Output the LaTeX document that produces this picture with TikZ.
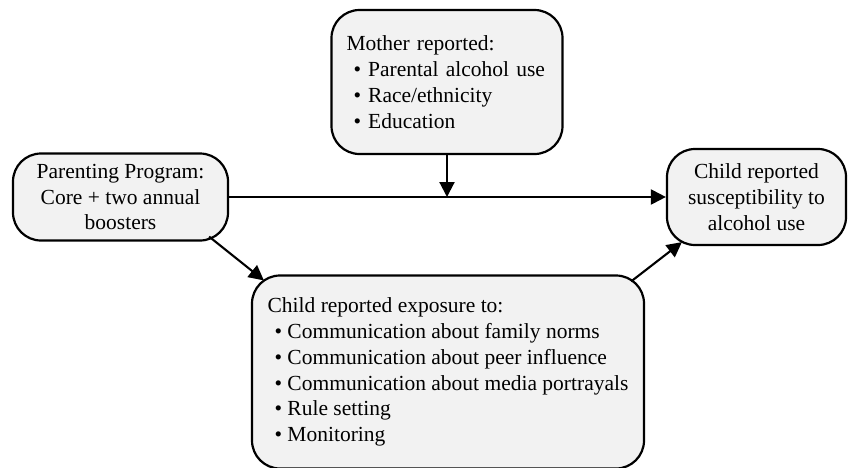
\documentclass[tikz,border=0pt]{standalone}
\usepackage{fontspec}
\setmainfont{Liberation Serif}
\usetikzlibrary{arrows.meta}
\usetikzlibrary{positioning}
\definecolor{boxgray}{gray}{0.95}

\begin{document}
\begin{tikzpicture}[x=1pt,y=-1pt,
    box/.style={draw, line width=2.2pt, fill=boxgray, rounded corners=28pt, inner sep=0pt,
        font=\fontsize{21.5}{25.8}\selectfont},
    link/.style={line width=2.1pt, -{Triangle[length=15pt,width=15pt]}}]
        \useasboundingbox (0,0) rectangle (848,467);
        \node[box, minimum width=215pt, minimum height=87pt, align=center] (prog) at (120.5,197)
            {Parenting Program:\\Core + two annual\\boosters};
        \node[box, minimum width=231pt, minimum height=144pt, text width=201pt, align=left] (mother) at (447,82)
            {Mother reported:\\
             \hspace*{7pt}\textbullet\ Parental alcohol use\\
             \hspace*{7pt}\textbullet\ Race/ethnicity\\
             \hspace*{7pt}\textbullet\ Education};
        \node[box, minimum width=179pt, minimum height=96pt, align=center] (outcome) at (756.5,197)
            {Child reported\\susceptibility to\\alcohol use};
        \node[box, minimum width=392pt, minimum height=193pt, align=left] (expo) at (448,372)
            {Child reported exposure to:\\
             \hspace*{7pt}\textbullet\ Communication about family norms\\
             \hspace*{7pt}\textbullet\ Communication about peer influence\\
             \hspace*{7pt}\textbullet\ Communication about media portrayals\\
             \hspace*{7pt}\textbullet\ Rule setting\\
             \hspace*{7pt}\textbullet\ Monitoring};
        \coordinate (joint) at (mother.south |- prog.east);
        \draw[link] (prog.east) -- (outcome.west);
        \draw[link] (mother.south) -- (joint);
        \draw[link] ([xshift=-20pt,yshift=5pt]prog.south east) -- ([xshift=13pt,yshift=-6pt]expo.north west);
        \draw[link] ([xshift=-14pt,yshift=-7pt]expo.north east) -- ([xshift=16pt,yshift=4pt]outcome.south west);
    \end{tikzpicture}
\end{document}
